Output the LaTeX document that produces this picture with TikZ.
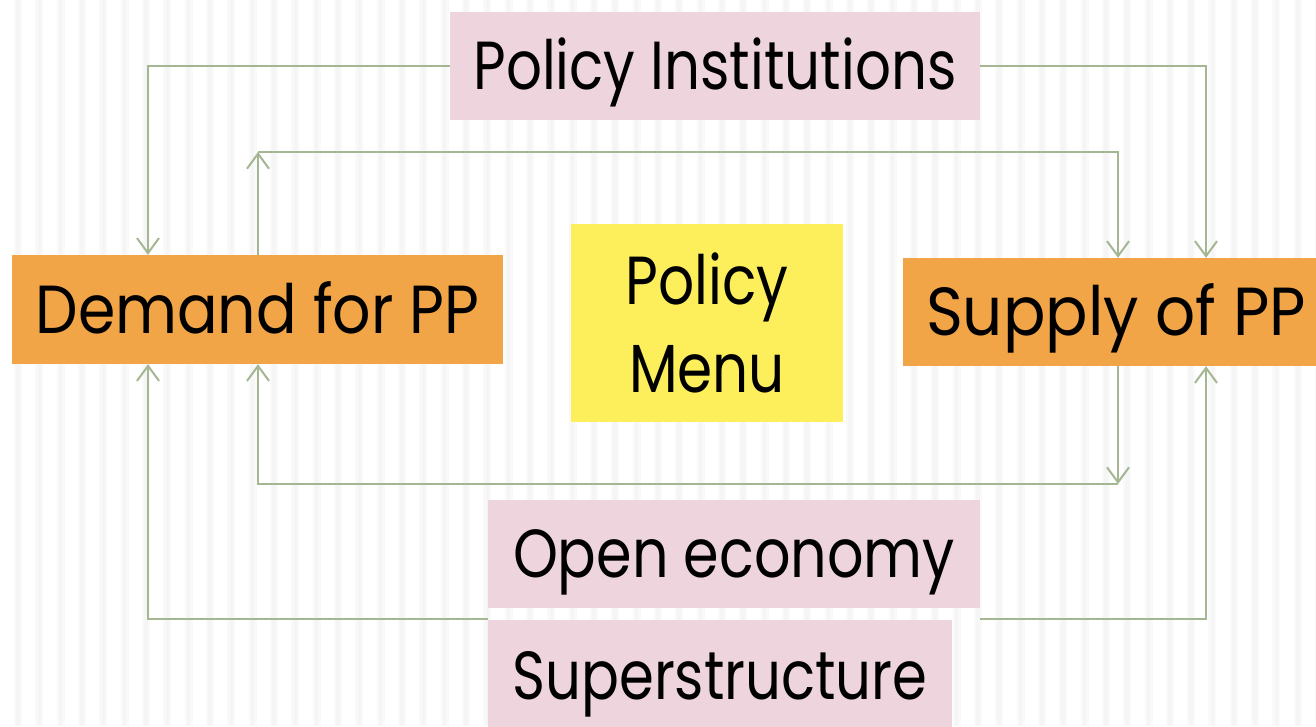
\documentclass[tikz,border=0pt]{standalone}
\usepackage{fontspec}
\setmainfont{Poppins}
\usetikzlibrary{arrows.meta}
\definecolor{linkgreen}{HTML}{A4B792}
\definecolor{pinkc}{HTML}{EDD4DD}
\definecolor{orangec}{HTML}{F2A547}
\definecolor{yellowc}{HTML}{FCEF5B}
\newcommand\fitw[2]{\resizebox{#1}{\height}{#2}}
\tikzset{
  box/.style={rectangle, inner sep=0pt, text height=47pt, text depth=0pt, font=\fontsize{68}{90}\selectfont},
  link/.style={draw=linkgreen, line width=2pt, -{Straight Barb[length=15pt,width=22pt]}},
  stripesoft/.style={draw=black!2.5, line width=8pt},
  stripe/.style={draw=black!4, line width=3.5pt}
}
\begin{document}
\begin{tikzpicture}[x=1pt,y=-1pt]
\useasboundingbox (0,0) rectangle (1316,726);
\fill[white] (0,0) rectangle (1316,726);
\foreach \i in {0,...,61} {
  \draw[stripesoft] ({18+21.33*\i},0) -- ++(0,726);
  \draw[stripe] ({18+21.33*\i},0) -- ++(0,726);
}
% boxes
\node[box, fill=pinkc, minimum width=530, minimum height=108] (pi) at (715,66) {\fitw{483pt}{Policy Institutions}};
\node[box, fill=orangec, minimum width=491, minimum height=109] (dem) at (257.5,309.5) {\fitw{444pt}{Demand for PP}};
\node[box, fill=orangec, minimum width=426, minimum height=108] (sup) at (1116,312) {\fitw{380pt}{Supply of PP}};
\node[rectangle, inner sep=0pt, fill=yellowc, minimum width=272, minimum height=198, align=center, font=\fontsize{68}{90}\selectfont] (menu) at (707,323) {\fitw{163pt}{Policy}\\[-2pt]\fitw{156pt}{Menu}};
\node[box, fill=pinkc, minimum width=492, minimum height=108] (oe) at (734,554) {\fitw{442pt}{Open economy}};
\node[box, fill=pinkc, minimum width=464, minimum height=112] (ss) at (720,676) {\fitw{415pt}{Superstructure}};
% connector points
\coordinate (demA) at (148,0 |- dem.north);
\coordinate (demB) at (258,0 |- dem.north);
\coordinate (demC) at (148,0 |- dem.south);
\coordinate (demD) at (258,0 |- dem.south);
\coordinate (supA) at (1118,0 |- sup.north);
\coordinate (supB) at (1206,0 |- sup.north);
\coordinate (supC) at (1118,0 |- sup.south);
\coordinate (supD) at (1206,0 |- sup.south);
\coordinate (tl) at (258,152);
\coordinate (br) at (1118,484);
\coordinate (gl) at (488,619);
\coordinate (gr) at (980,619);
% connectors
\draw[link] (pi.west) -| (demA);
\draw[link] (pi.east) -| (supB);
\draw[link] (demB) -- (tl);
\draw[link] (tl) -| (supA);
\draw[link] (supC) -- (br);
\draw[link] (br) -| (demD);
\draw[link] (gl) -| (demC);
\draw[link] (gr) -| (supD);
\end{tikzpicture}
\end{document}
